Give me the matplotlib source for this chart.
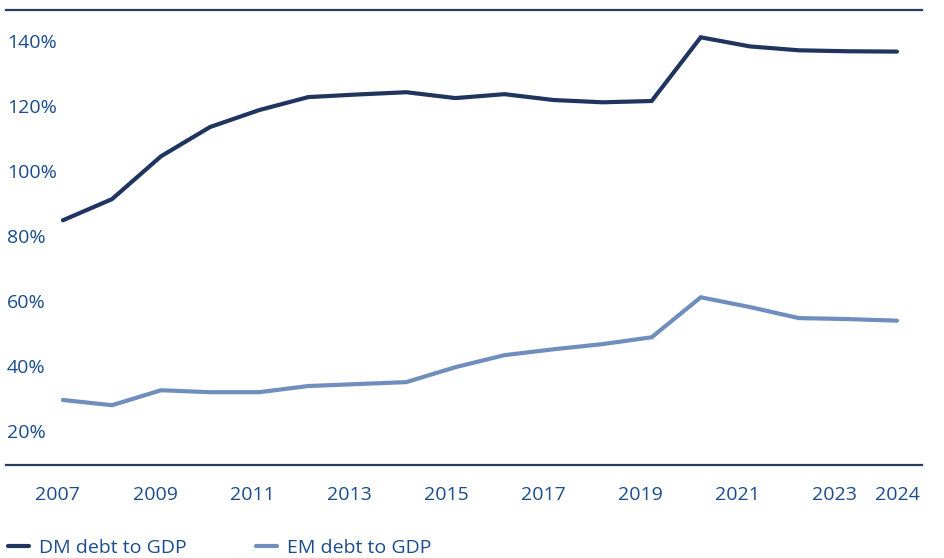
import matplotlib
matplotlib.use('Agg')
import matplotlib.pyplot as plt
import matplotlib.transforms as mtransforms

# data
years = list(range(2007, 2025))
dm_debt = [85.5, 92.0, 105.2, 114.2, 119.4, 123.4, 124.2, 124.9, 123.1, 124.3,
           122.5, 121.8, 122.2, 141.8, 139.0, 137.8, 137.5, 137.4]
em_debt = [30.2, 28.6, 33.2, 32.6, 32.6, 34.5, 35.1, 35.7, 40.3, 44.0,
           45.8, 47.4, 49.5, 61.8, 58.8, 55.4, 55.1, 54.6]
x_ticks = [2007, 2009, 2011, 2013, 2015, 2017, 2019, 2021, 2023, 2024]
y_ticks = [20, 40, 60, 80, 100, 120, 140]

dm_color = '#1f3560'
em_color = '#6f8ebd'
text_color = '#1a4c8e'
rule_color = '#283b60'

plt.rcParams['font.family'] = ['Open Sans', 'DejaVu Sans']

fig = plt.figure(figsize=(9.44, 5.58), dpi=100)
ax = fig.add_axes([6 / 944, 1 - 465 / 558, 916 / 944, 455 / 558])

ax.plot(years, dm_debt, color=dm_color, lw=3.0, solid_capstyle='round',
        solid_joinstyle='miter', label='DM debt to GDP')
ax.plot(years, em_debt, color=em_color, lw=3.0, solid_capstyle='round',
        solid_joinstyle='miter', label='EM debt to GDP')

ax.set_xlim(2005.84, 2024.51)
ax.set_ylim(10.2, 150.2)

# spines: only top and bottom rules
for s in ['left', 'right']:
    ax.spines[s].set_visible(False)
for s in ['top', 'bottom']:
    ax.spines[s].set_color(rule_color)
    ax.spines[s].set_linewidth(1.6)

ax.set_xticks(x_ticks)
ax.set_xticklabels([str(y) for y in x_ticks])
ax.tick_params(axis='x', length=0, pad=15, labelsize=14, labelcolor=text_color)

# the year labels in the original drift a little left of the data points
for yr, lab in zip(x_ticks, ax.get_xticklabels()):
    if yr == 2024:
        continue
    dx = (-5 - (yr - 2007) * 0.5) / 100.0
    lab.set_transform(lab.get_transform() +
                      mtransforms.ScaledTranslation(dx, 0, fig.dpi_scale_trans))

# y labels sit inside the plot, left aligned
ax.set_yticks([])
for v in y_ticks:
    ax.text(0.001, v, f'{v}%', transform=ax.get_yaxis_transform(),
            ha='left', va='center', fontsize=14, color=text_color)

fig.legend(loc='lower left', bbox_to_anchor=(0.0, -0.012), ncol=2, frameon=False,
           fontsize=14, labelcolor=text_color, handlelength=1.1,
           handletextpad=0.5, columnspacing=3.55, borderaxespad=0.2, borderpad=0.2)

fig.savefig('out.png', dpi=100)
